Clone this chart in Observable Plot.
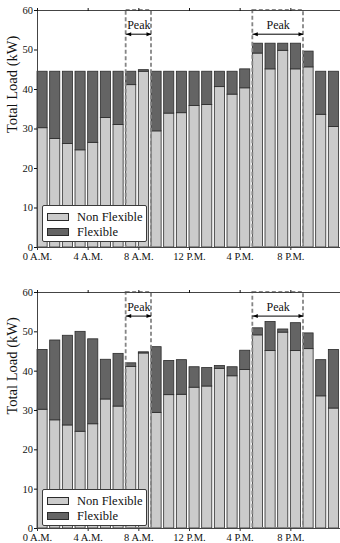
<!DOCTYPE html>
<html>
<head>
<meta charset="utf-8">
<script src="https://cdn.jsdelivr.net/npm/d3@7"></script>
<script src="https://cdn.jsdelivr.net/npm/@observablehq/plot@0.6"></script>
<style>
html, body { margin: 0; padding: 0; background: #fff; overflow: hidden; width: 340px; height: 543px; }
#wrap { position: relative; width: 340px; height: 543px; overflow: hidden; }
.panel { position: absolute; left: 0; width: 341px; }
.panel svg { display: block; overflow: visible; }
.panel svg text { font-family: "Liberation Serif", "DejaVu Serif", serif !important; }
.legend { position: absolute; background: #fff; border: 1px solid #3a3a3a; border-radius: 2px; box-sizing: border-box;
  font-family: "Liberation Serif", "DejaVu Serif", serif; font-size: 12.5px; color: #111; }
.sw { position: absolute; left: 4px; width: 22px; height: 8px; border: 1px solid #2a2a2a; box-sizing: border-box; }
.lab { position: absolute; left: 34px; line-height: 14px; white-space: nowrap; }
</style>
</head>
<body>
<div id="wrap"></div>
<script>
// ---- data ----
const hours = d3.range(24);
const nonFlexible = [30.2, 27.5, 26.2, 24.6, 26.5, 32.8, 31.0, 41.1, 44.5, 29.4, 33.9, 34.0,
                     35.8, 36.1, 40.6, 38.7, 40.3, 49.1, 45.1, 49.8, 45.1, 45.6, 33.6, 30.5];
const totalBefore = [44.5, 44.5, 44.5, 44.5, 44.5, 44.5, 44.5, 44.5, 44.9, 44.5, 44.5, 44.5,
                     44.5, 44.5, 44.5, 44.5, 45.1, 51.6, 51.6, 51.6, 51.6, 49.6, 44.5, 44.5];
const totalAfter  = [45.4, 47.8, 49.0, 50.0, 48.1, 42.9, 44.4, 42.0, 44.8, 46.1, 42.6, 42.8,
                     41.0, 40.8, 41.3, 41.0, 45.2, 50.9, 52.5, 50.6, 52.2, 49.6, 42.8, 45.4];
const seriesNames = ["Non Flexible", "Flexible"];
const tickHours = [0, 4, 8, 12, 16, 20];
const tickLabels = ["0 A.M.", "4 A.M.", "8 A.M.", "12 P.M.", "4 P.M.", "8 P.M."];
const yTicks = [0, 10, 20, 30, 40, 50, 60];
const yDomain = [0, 60];
const peakStart = [7, 17];
const peakEnd = [9, 21];
const peakArrowY = 54;
const peakTextY = 56.3;
const peakLabel = "Peak";
const yLabel = "Total Load (kW)";

// ---- styles ----
const colors = ["#cbcbcb", "#646464"];
const barWidth = 0.8;
const FONT = '"Liberation Serif", "DejaVu Serif", serif';

const peaks = peakStart.map((s, i) => ({start: s, end: peakEnd[i], mid: (s + peakEnd[i]) / 2,
  y: peakArrowY, ty: peakTextY, lo: yDomain[0], hi: yDomain[1], label: peakLabel}));

const arrowHead = {
  draw(ctx, size) {
    const L = 5, W = 2;
    ctx.moveTo(0, 0); ctx.lineTo(-L, -W); ctx.lineTo(-L, W); ctx.closePath();
  }
};

function panel(totals, o) {
  const rows = [];
  hours.forEach((h, i) => {
    rows.push({h, y1: 0, y2: nonFlexible[i], s: seriesNames[0]});
    rows.push({h, y1: nonFlexible[i], y2: totals[i], s: seriesNames[1]});
  });
  const ends = peaks.flatMap(p => [{x: p.start, y: p.y, r: 180}, {x: p.end, y: p.y, r: 0}]);
  return Plot.plot({
    width: 341, height: o.height,
    marginLeft: 37, marginRight: 0, marginTop: o.mt, marginBottom: o.mb,
    style: {fontFamily: FONT, fontSize: "10.5px", color: "#111", background: "transparent"},
    x: {domain: [0, 24]},
    y: {domain: yDomain},
    color: {domain: seriesNames, range: colors},
    marks: [
      Plot.rect(rows, {x1: "h", x2: d => d.h + barWidth, y1: "y1", y2: "y2", fill: "s",
        stroke: "#2b2b2b", strokeWidth: 0.8}),
      Plot.rect(peaks, {x1: "start", x2: "end", y1: "lo", y2: "hi", fill: "none",
        stroke: "#858585", strokeWidth: 1.8, strokeDasharray: "4,2.5"}),
      Plot.ruleY(peaks, {y: "y", x1: "start", x2: "end", stroke: "#000", strokeWidth: 1}),
      Plot.dot(ends, {x: "x", y: "y", rotate: "r", symbol: arrowHead, fill: "#000", stroke: "none", r: 3}),
      Plot.text(peaks, {x: "mid", y: "ty", text: "label", fontSize: 12, fill: "#111"}),
      Plot.frame({stroke: "#444", strokeWidth: 1}),
      Plot.axisX({ticks: tickHours, tickFormat: (d, i) => tickLabels[i], tickSize: 3, tickPadding: 2.5,
        label: null, stroke: "#333"}),
      Plot.axisX({anchor: "top", ticks: tickHours, tickFormat: () => "", tickSize: 3, label: null}),
      Plot.axisY({ticks: yTicks, tickSize: 3, tickPadding: 1.5, label: null}),
      Plot.text([yLabel], {frameAnchor: "left", text: d => d, rotate: -90, dx: -25, dy: 4,
        fontSize: 14.5, fill: "#111"})
    ]
  });
}

const wrap = document.getElementById("wrap");
const configs = [
  {totals: totalBefore, top: 0, height: 271, mt: 10, mb: 24, legendTop: 205},
  {totals: totalAfter, top: 271, height: 272, mt: 21, mb: 15, legendTop: 489}
];
for (const c of configs) {
  const div = document.createElement("div");
  div.className = "panel";
  div.style.top = c.top + "px";
  div.appendChild(panel(c.totals, c));
  wrap.appendChild(div);
  const lg = document.createElement("div");
  lg.className = "legend";
  Object.assign(lg.style, {left: "42px", top: c.legendTop + "px", width: "105px", height: "37px"});
  seriesNames.forEach((name, i) => {
    const sw = document.createElement("div");
    sw.className = "sw";
    sw.style.top = (7 + i * 15) + "px";
    sw.style.background = colors[i];
    lg.appendChild(sw);
    const lab = document.createElement("div");
    lab.className = "lab";
    lab.style.top = (4 + i * 15) + "px";
    lab.textContent = name;
    lg.appendChild(lab);
  });
  wrap.appendChild(lg);
}
</script>
</body>
</html>
